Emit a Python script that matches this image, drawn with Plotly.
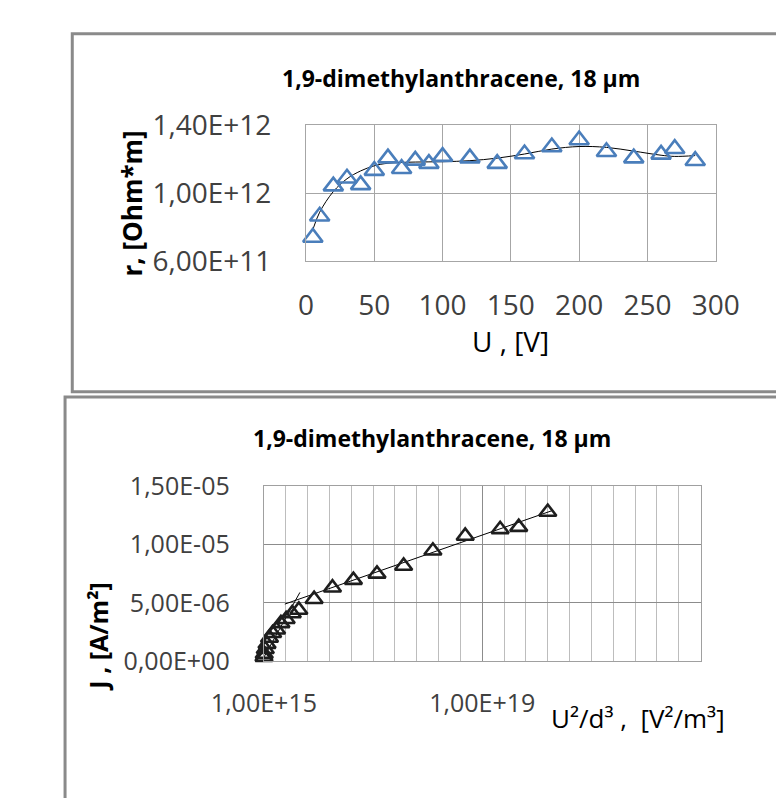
import plotly.graph_objects as go

# ---------------- data ----------------
U_V = [5, 10, 20, 30, 40, 50, 60, 70, 80, 90, 100, 120, 140, 160, 180, 200, 220, 240, 260, 270, 285]
r_ohm_m = [0.740e12, 0.864e12, 1.041e12, 1.087e12, 1.048e12, 1.132e12, 1.205e12, 1.143e12, 1.192e12,
           1.173e12, 1.214e12, 1.205e12, 1.173e12, 1.229e12, 1.270e12, 1.311e12, 1.242e12, 1.205e12,
           1.227e12, 1.260e12, 1.190e12]
fit_U = [5, 10, 20, 30, 40, 50, 60, 80, 100, 120, 140, 160, 180, 200, 220, 240, 260, 270, 285]
fit_r = [0.786e12, 0.888e12, 1.009e12, 1.084e12, 1.130e12, 1.160e12, 1.175e12, 1.182e12, 1.184e12,
         1.190e12, 1.205e12, 1.229e12, 1.258e12, 1.273e12, 1.268e12, 1.246e12, 1.222e12, 1.215e12, 1.220e12]

X_u2d3 = [4.0e15, 1.6e16, 6.4e16, 1.44e17, 2.56e17, 4.0e17, 5.8e17, 7.8e17, 1.02e18, 1.30e18, 1.60e18,
          2.30e18, 3.14e18, 4.10e18, 5.18e18, 6.40e18, 7.74e18, 9.22e18, 10.82e18, 11.67e18, 13.0e18]
J_A_m2 = [0.36e-6, 0.62e-6, 1.03e-6, 1.47e-6, 2.0e-6, 2.4e-6, 2.7e-6, 3.25e-6, 3.6e-6, 4.1e-6, 4.4e-6,
          5.32e-6, 6.30e-6, 6.95e-6, 7.49e-6, 8.16e-6, 9.46e-6, 10.73e-6, 11.30e-6, 11.49e-6, 12.78e-6]
fit_low_X = [1.0e15, 1.65e18]
fit_low_J = [0.35e-6, 5.9e-6]
fit_high_X = [0.96e18, 13.2e18]
fit_high_J = [4.9e-6, 12.9e-6]

title_text = "1,9-dimethylanthracene, 18 µm"
top_xticks = [0, 50, 100, 150, 200, 250, 300]
top_yticks = [6e11, 1e12, 1.4e12]
top_ytext = ["6,00E+11", "1,00E+12", "1,40E+12"]
bot_yticks = [0, 5e-6, 1e-5, 1.5e-5]
bot_ytext = ["0,00E+00", "5,00E-06", "1,00E-05", "1,50E-05"]
bot_xticks = [1e15, 1.0001e19]
bot_xtext = ["1,00E+15", "1,00E+19"]

# ---------------- figure ----------------
W, H = 784, 798
FONT = "Open Sans"
TICKC = "#404040"

def px(x):
    return x / W

def py(y):
    return 1 - y / H

fig = go.Figure()

fig.add_trace(go.Scatter(x=fit_U, y=fit_r, mode="lines", line=dict(color="black", width=1, shape="spline"),
                         xaxis="x", yaxis="y", showlegend=False, hoverinfo="skip"))
fig.add_trace(go.Scatter(x=U_V, y=r_ohm_m, mode="markers",
                         marker=dict(symbol="triangle-up-open", size=17, color="#4a7ebb",
                                     line=dict(width=2.6, color="#4a7ebb")),
                         xaxis="x", yaxis="y", showlegend=False, cliponaxis=False))

fig.add_trace(go.Scatter(x=fit_low_X, y=fit_low_J, mode="lines", line=dict(color="black", width=1),
                         xaxis="x2", yaxis="y2", showlegend=False, hoverinfo="skip", cliponaxis=False))
fig.add_trace(go.Scatter(x=fit_high_X, y=fit_high_J, mode="lines", line=dict(color="black", width=1),
                         xaxis="x2", yaxis="y2", showlegend=False, hoverinfo="skip"))
fig.add_trace(go.Scatter(x=X_u2d3, y=J_A_m2, mode="markers",
                         marker=dict(symbol="triangle-up-open", size=15, color="#1e1e1e",
                                     line=dict(width=2.6, color="#1e1e1e")),
                         xaxis="x2", yaxis="y2", showlegend=False, cliponaxis=False))

grid_top = "#a6a6a6"
fig.update_layout(
    width=W, height=H, margin=dict(l=0, r=0, t=0, b=0),
    paper_bgcolor="white", plot_bgcolor="white",
    font=dict(family=FONT, color=TICKC),
    xaxis=dict(domain=[px(271.7), px(726)], range=[0, 300], tickmode="array", tickvals=top_xticks,
               showgrid=True, gridcolor=grid_top, gridwidth=1.3, zeroline=False,
               showline=True, linecolor=grid_top, linewidth=1.3, mirror=True,
               ticks="", ticklabelstandoff=19, tickfont=dict(size=28, color=TICKC), anchor="y"),
    yaxis=dict(domain=[py(245), py(101.7)], range=[6e11, 1.4e12], tickmode="array",
               tickvals=top_yticks, ticktext=top_ytext,
               showgrid=True, gridcolor=grid_top, gridwidth=1.3, zeroline=False,
               showline=True, linecolor=grid_top, linewidth=1.3, mirror=True,
               ticks="", ticklabelstandoff=28, tickfont=dict(size=28, color=TICKC), anchor="x"),
    xaxis2=dict(domain=[px(225), px(709.3)], range=[1e15, 2.0001e19], tickmode="array",
                tickvals=bot_xticks, ticktext=bot_xtext,
                showgrid=True, gridcolor="#8c8c8c", gridwidth=1, zeroline=False,
                showline=True, linecolor="#a0a0a0", linewidth=1.3, mirror=True,
                minor=dict(tickmode="linear", tick0=1e15, dtick=1e18, showgrid=True,
                           gridcolor="#bdbdbd", gridwidth=1, ticks=""),
                ticks="", ticklabelstandoff=20, tickfont=dict(size=25, color=TICKC), anchor="y2"),
    yaxis2=dict(domain=[py(665), py(481)], range=[0, 1.5e-5], tickmode="array",
                tickvals=bot_yticks, ticktext=bot_ytext,
                showgrid=True, gridcolor="#8c8c8c", gridwidth=1, zeroline=False,
                showline=True, linecolor="#a0a0a0", linewidth=1.3, mirror=True,
                ticks="", ticklabelstandoff=28, tickfont=dict(size=25, color=TICKC), anchor="x2"),
)

annotations = [
    dict(text="<b>" + title_text + "</b>", x=px(444), y=py(52), font=dict(size=23, color="black")),
    dict(text="<b>" + title_text + "</b>", x=px(411), y=py(430), font=dict(size=23, color="black")),
    dict(text="U , [V]", x=px(499), y=py(329), font=dict(size=28, color="black")),
    dict(text="<b>r, [Ohm*m]</b>", x=px(79), y=py(184), textangle=-90, font=dict(size=26, color="black")),
    dict(text="<b>J , [A/m²]</b>", x=px(40), y=py(639), textangle=-90, font=dict(size=25, color="black")),
    dict(text="U²/d³ ,  [V²/m³]", x=px(640), y=py(724), font=dict(size=26, color="black")),
]
for a in annotations:
    a.update(xref="paper", yref="paper", showarrow=False, xanchor="center", yanchor="middle")
fig.update_layout(annotations=annotations)

frame_c = "#8a8a8a"
fig.update_layout(shapes=[
    dict(type="rect", xref="paper", yref="paper", x0=px(12.5), x1=px(800), y0=py(382), y1=py(6),
         line=dict(color=frame_c, width=3)),
    dict(type="rect", xref="paper", yref="paper", x0=px(4.5), x1=px(800), y0=py(820), y1=py(387.5),
         line=dict(color=frame_c, width=3)),
])

fig.write_html("out.html")
